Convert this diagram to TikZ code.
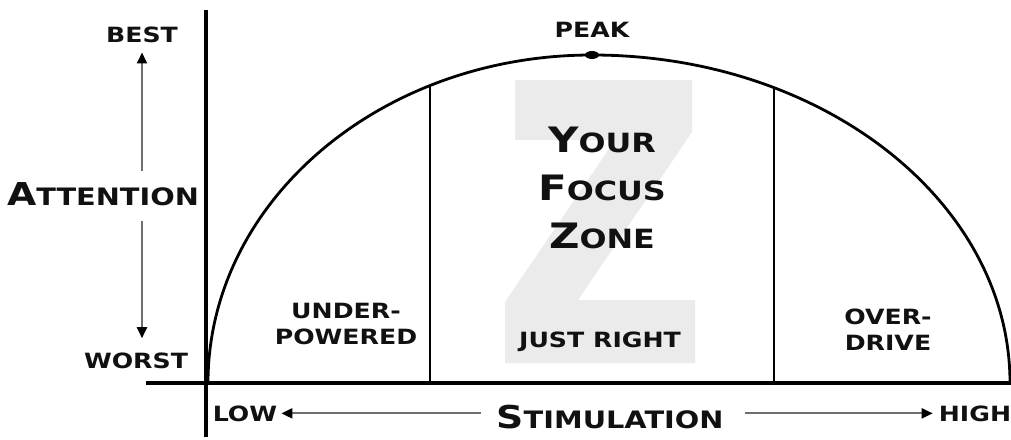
\documentclass[tikz,border=0pt]{standalone}
\usepackage{fontspec}
\usepackage{tikz}
\usetikzlibrary{arrows.meta, calc}
\newfontfamily\copperfont[FakeStretch=1.2]{DejaVu Sans}
\definecolor{zoneFill}{HTML}{EBEBEB}
\definecolor{arrowGray}{HTML}{6E6E6E}
\definecolor{inkBlack}{HTML}{111111}
\newcommand{\initcap}[2]{{\fontsize{#1}{#1}\selectfont #2}}

\begin{document}
\begin{tikzpicture}[
  x=1pt, y=-1pt,
  lbl/.style    ={font=\copperfont\bfseries\fontsize{21pt}{26pt}\selectfont, text=inkBlack, inner sep=0pt},
  biglbl/.style ={font=\copperfont\bfseries\fontsize{24pt}{28pt}\selectfont, text=inkBlack, inner sep=0pt},
  zonelbl/.style={font=\copperfont\bfseries\fontsize{26.5pt}{48pt}\selectfont, text=inkBlack,
                  inner sep=0pt, align=center},
  axis/.style   ={draw=black, line width=4.5pt},
  curve/.style  ={draw=black, line width=2.8pt},
  divider/.style={draw=black, line width=2.2pt},
  arr/.style    ={-{Triangle[length=11pt, width=10pt, color=black]}, draw=arrowGray, line width=2pt},
]
\useasboundingbox (0,0) rectangle (1011,439);

% ----- Big grey Z behind the focus zone -----
\fill[zoneFill] (515,80) -- (692,80) -- (692,132) -- (578,300) -- (695,300) -- (695,363)
  -- (505,363) -- (505,302) -- (615,140) -- (515,140) -- cycle;

% ----- Axes -----
\coordinate (yTop)   at (206,10);
\coordinate (yBot)   at (206,437);
\coordinate (xLeft)  at (146,383);
\coordinate (xRight) at (1011,383);
\draw[axis] (yTop) -- (yBot);
\draw[axis] (xLeft) -- (xRight);

% ----- Attention curve (two quarter ellipses) -----
\coordinate (ctr) at (592,383);
\coordinate (top) at (592,55);
\draw[curve] (208,383) arc[start angle=180, end angle=270, x radius=384, y radius=328]
  arc[start angle=270, end angle=360, x radius=418, y radius=328];
\fill (top) ellipse [x radius=7, y radius=4];

% ----- Zone dividers -----
\coordinate (divL) at ($(ctr)+(245.05:384 and 328)$);
\coordinate (divR) at ($(ctr)+(295.81:418 and 328)$);
\draw[divider] (divL) -- (divL |- ctr);
\draw[divider] (divR) -- (divR |- ctr);

% ----- Vertical axis labels -----
\node[lbl, anchor=base] (best) at (142,42) {BEST};
\node[lbl, anchor=base] (worst) at (136,368) {WORST};
\node[biglbl, anchor=base] (attn) at (103,205) {\initcap{31.5pt}{A}TTENTION};
\draw[arr, shorten <=11pt, shorten >=10pt] (best.south |- attn.north) -- (best.south);
\draw[arr, shorten <=15pt, shorten >=14pt] (best.south |- attn.south) -- (best.south |- worst.north);

% ----- Zone labels -----
\node[lbl, anchor=base] (peak) at (592,37) {PEAK};
\node[zonelbl, anchor=north] (focus) at (602,127)
  {\initcap{35pt}{Y}OUR\\\initcap{35pt}{F}OCUS\\\initcap{35pt}{Z}ONE};
\node[lbl, align=center, anchor=north] (under) at (346,303) {UNDER-\\POWERED};
\node[lbl, anchor=base] (just) at (600,347) {JUST RIGHT};
\node[lbl, align=center, anchor=north] (over) at (888,309) {OVER-\\DRIVE};

% ----- Horizontal axis labels -----
\node[lbl, anchor=base] (low) at (245,421) {LOW};
\node[biglbl, anchor=base] (stim) at (610,428) {\initcap{31.5pt}{S}TIMULATION};
\node[lbl, anchor=base] (high) at (975,421) {HIGH};
\draw[arr, shorten <=15pt, shorten >=4pt] (low.east -| stim.west) -- (low.east);
\draw[arr, shorten <=21pt, shorten >=6pt] (low.east -| stim.east) -- (low.east -| high.west);

\end{tikzpicture}
\end{document}
